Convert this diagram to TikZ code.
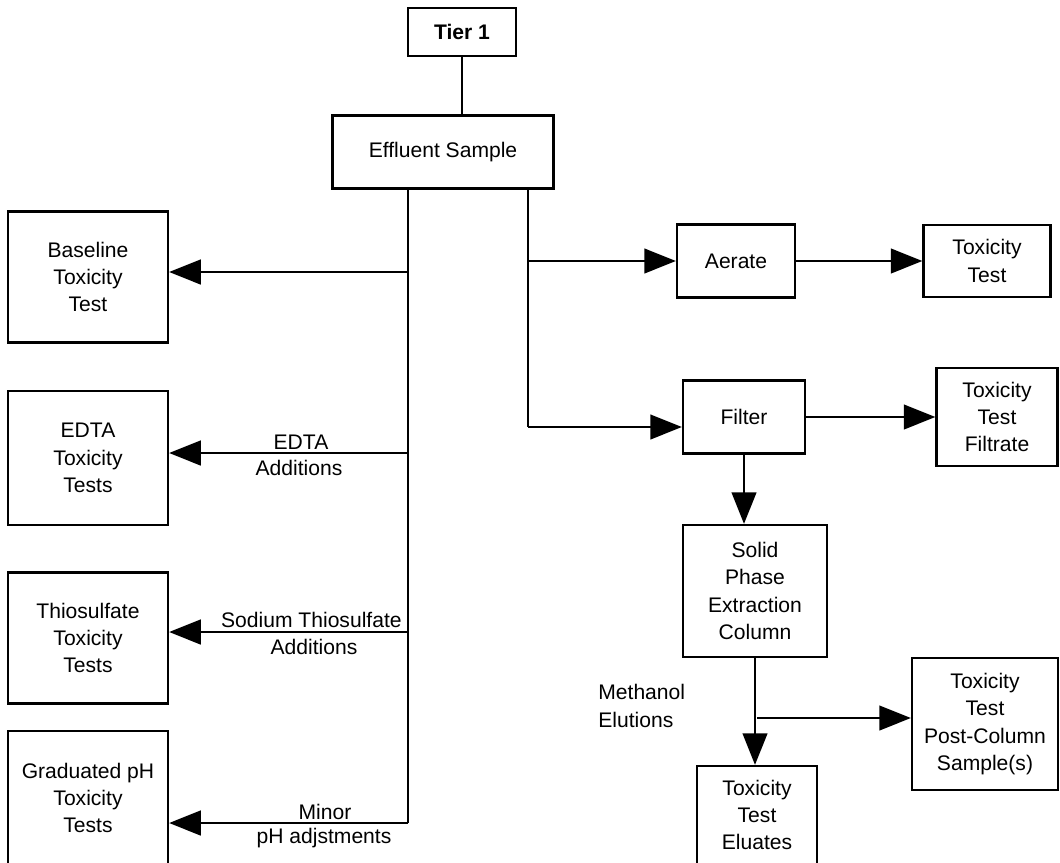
\documentclass[tikz,border=0pt]{standalone}
\usepackage{fontspec}
\setmainfont{Liberation Sans}
\usetikzlibrary{arrows.meta}

\begin{document}
\begin{tikzpicture}[x=0.02cm,y=-0.02cm,
  box/.style={draw,line width=1.3pt,align=center,inner sep=0pt,font=\fontsize{12}{15.5}\selectfont},
  lbl/.style={align=center,inner sep=0pt,font=\fontsize{12}{15.5}\selectfont},
  line/.style={line width=1.5pt},
  arr/.style={line width=1.5pt,-{Triangle[length=18pt,width=14pt]}}]
\clip (0,0) rectangle (1060,862);
\node [box,minimum width=2.16cm,minimum height=0.96cm] (tier) at (462,32) {\textbf{Tier 1}};
\node [box,minimum width=4.42cm,minimum height=1.46cm] (eff) at (443,152) {Effluent Sample};
\node [box,minimum width=3.2cm,minimum height=2.62cm] (base) at (88,277) {Baseline\\Toxicity\\Test};
\node [box,minimum width=3.2cm,minimum height=2.68cm] (edta) at (88,458) {EDTA\\Toxicity\\Tests};
\node [box,minimum width=3.2cm,minimum height=2.62cm] (thio) at (88,638) {Thiosulfate\\Toxicity\\Tests};
\node [box,minimum width=3.2cm,minimum height=2.68cm] (grad) at (88,798) {Graduated pH\\Toxicity\\Tests};
\node [box,minimum width=2.36cm,minimum height=1.46cm] (aer) at (736,261) {Aerate};
\node [box,minimum width=2.54cm,minimum height=1.44cm] (tt) at (987,261) {Toxicity\\Test};
\node [box,minimum width=2.44cm,minimum height=1.46cm] (fil) at (744,417) {Filter};
\node [box,minimum width=2.42cm,minimum height=1.96cm] (ttf) at (997,417) {Toxicity\\Test\\Filtrate};
\node [box,minimum width=2.88cm,minimum height=2.64cm] (col) at (755,591) {Solid\\Phase\\Extraction\\Column};
\node [box,minimum width=2.92cm,minimum height=2.64cm] (post) at (985,724) {Toxicity\\Test\\Post-Column\\Sample(s)};
\node [box,minimum width=2.4cm,minimum height=1.96cm] (elu) at (757,815) {Toxicity\\Test\\Eluates};
\coordinate (jb) at (408,272);
\coordinate (je) at (408,453);
\coordinate (jt) at (408,632);
\coordinate (jp) at (408,823);
\coordinate (ja) at (528,261);
\coordinate (jf) at (528,427);
\coordinate (jm) at (757,718);
\draw [line] (tier.south) -- (tier.south |- eff.north);
\draw [line] (eff.south -| jb) -- (jp);
\draw [line] (eff.south -| ja) -- (jf);
\draw [arr] (jb) -- (jb -| base.east);
\draw [arr] (je) -- (je -| edta.east);
\draw [arr] (jt) -- (jt -| thio.east);
\draw [arr] (jp) -- (jp -| grad.east);
\draw [arr] (ja) -- (ja -| aer.west);
\draw [arr] (jf) -- (jf -| fil.west);
\draw [arr] (aer.east) -- (aer.east -| tt.west);
\draw [arr] (fil.east) -- (fil.east -| ttf.west);
\draw [arr] (fil.south) -- (fil.south |- col.north);
\draw [arr] (col.south) -- (col.south |- elu.north);
\draw [arr] (jm) -- (jm -| post.west);
\node [lbl] (l1) at (301,442) {EDTA};
\node [lbl] (l2) at (299,468) {Additions};
\node [lbl,anchor=east] (l3) at (402,620) {Sodium Thiosulfate};
\node [lbl] (l4) at (314,647) {Additions};
\node [lbl] (l5) at (325,812) {Minor};
\node [lbl] (l6) at (324,838) {pH adjstments};
\node [lbl,align=left,anchor=west] (l7) at (598,706) {Methanol\\Elutions};
\end{tikzpicture}
\end{document}
